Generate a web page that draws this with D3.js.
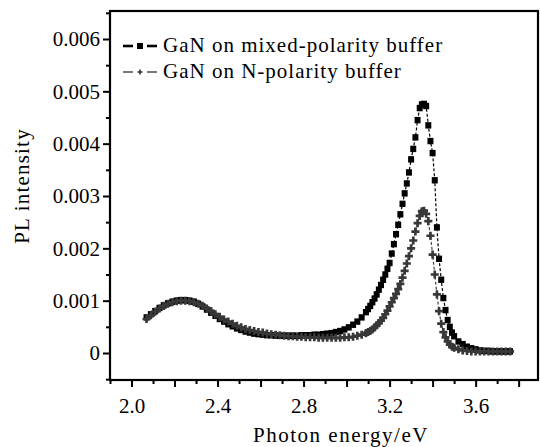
<!DOCTYPE html>
<html>
  <head>
    <style>
      body { margin: 0px; overflow: hidden; background: #fff; }
    </style>
    <script src="https://d3js.org/d3.v7.min.js"></script>
  </head>
  <body>
    <svg width="540" height="447"></svg>
    <script>
      // photon energy (eV), shared by both series
      const energy = [
        2.07, 2.09, 2.11, 2.13, 2.15, 2.17, 2.19, 2.21, 2.23, 2.25,
        2.27, 2.29, 2.31, 2.33, 2.35, 2.37, 2.39, 2.41, 2.43, 2.45,
        2.47, 2.49, 2.51, 2.53, 2.55, 2.57, 2.59, 2.61, 2.63, 2.65,
        2.67, 2.69, 2.71, 2.73, 2.75, 2.77, 2.79, 2.81, 2.83, 2.85,
        2.87, 2.89, 2.91, 2.93, 2.95, 2.97, 2.99, 3.01, 3.03, 3.05,
        3.07, 3.09, 3.10, 3.11, 3.12, 3.13, 3.14, 3.15, 3.16, 3.17,
        3.18, 3.19, 3.20, 3.21, 3.22, 3.23, 3.24, 3.25, 3.26, 3.27,
        3.28, 3.29, 3.30, 3.31, 3.32, 3.33, 3.34, 3.35, 3.36, 3.37,
        3.38, 3.39, 3.40, 3.41, 3.42, 3.43, 3.44, 3.45, 3.46, 3.47,
        3.48, 3.49, 3.50, 3.52, 3.54, 3.56, 3.58, 3.60, 3.62, 3.64,
        3.66, 3.68, 3.70, 3.72, 3.74, 3.76
      ];

      // PL intensity in units of 0.001
      const mixedPolarity = [
        0.68, 0.74, 0.80, 0.86, 0.91, 0.95, 0.98, 1.00, 1.01, 1.01,
        1.00, 0.98, 0.94, 0.89, 0.83, 0.77, 0.71, 0.65, 0.60, 0.55,
        0.51, 0.47, 0.44, 0.41, 0.39, 0.37, 0.36, 0.35, 0.34, 0.34,
        0.33, 0.33, 0.33, 0.33, 0.33, 0.33, 0.34, 0.34, 0.34, 0.35,
        0.35, 0.36, 0.37, 0.38, 0.40, 0.42, 0.45, 0.49, 0.54, 0.60,
        0.68, 0.78, 0.84, 0.90, 0.97, 1.04, 1.12, 1.21, 1.30, 1.40,
        1.50, 1.61, 1.72, 1.90, 2.08, 2.27, 2.45, 2.65, 2.85, 3.05,
        3.24, 3.45, 3.70, 3.90, 4.12, 4.45, 4.68, 4.75, 4.76, 4.72,
        4.35, 4.05, 3.82, 3.30, 2.40, 1.80, 1.40, 1.05, 0.82, 0.63,
        0.50, 0.39, 0.32, 0.22, 0.17, 0.12, 0.09, 0.07, 0.05, 0.04,
        0.04, 0.03, 0.03, 0.03, 0.03, 0.03
      ];

      const nPolarity = [
        0.65, 0.72, 0.79, 0.85, 0.90, 0.94, 0.97, 0.99, 1.00, 1.00,
        0.99, 0.97, 0.94, 0.90, 0.85, 0.80, 0.74, 0.69, 0.64, 0.60,
        0.56, 0.52, 0.49, 0.46, 0.44, 0.42, 0.40, 0.39, 0.37, 0.36,
        0.35, 0.34, 0.33, 0.32, 0.32, 0.31, 0.31, 0.30, 0.30, 0.30,
        0.29, 0.29, 0.29, 0.29, 0.29, 0.29, 0.30, 0.30, 0.31, 0.33,
        0.35, 0.38, 0.40, 0.42, 0.45, 0.49, 0.53, 0.57, 0.62, 0.67,
        0.74, 0.81, 0.89, 0.97, 1.05, 1.13, 1.22, 1.32, 1.44, 1.57,
        1.71, 1.85, 2.00, 2.15, 2.32, 2.48, 2.62, 2.71, 2.72, 2.66,
        2.52, 2.24, 1.88, 1.50, 1.12, 0.80, 0.56, 0.40, 0.30, 0.22,
        0.16, 0.12, 0.10, 0.07, 0.05, 0.04, 0.03, 0.03, 0.03, 0.03,
        0.03, 0.03, 0.03, 0.03, 0.03, 0.03
      ];

      const seriesNames = ['GaN on mixed-polarity buffer', 'GaN on N-polarity buffer'];
      const yTicks = [0, 1, 2, 3, 4, 5, 6];
      const yTickLabels = ['0', '0.001', '0.002', '0.003', '0.004', '0.005', '0.006'];
      const yMinorTicks = [-0.5, 0.5, 1.5, 2.5, 3.5, 4.5, 5.5, 6.5];
      const xLabelTicks = [2.0, 2.4, 2.8, 3.2, 3.6];
      const xMajorTicks = [2.0, 2.2, 2.4, 2.6, 2.8, 3.0, 3.2, 3.4, 3.6, 3.8];
      const xMinorTicks = [1.9, 2.1, 2.3, 2.5, 2.7, 2.9, 3.1, 3.3, 3.5, 3.7];

      const svg = d3.select('svg');
      const width = +svg.attr('width');
      const height = +svg.attr('height');
      const margin = { top: 11, right: 2, bottom: 67, left: 110 };
      const serif = 'Liberation Serif';
      const fontSize = 21;

      const xScale = d3.scaleLinear()
        .domain([1.9, 3.89])
        .range([margin.left, width - margin.right]);

      const yScale = d3.scaleLinear()
        .domain([-0.516, 6.535])
        .range([height - margin.bottom, margin.top]);

      // data
      const rows = energy.map((e, i) => ({ e, a: mixedPolarity[i], b: nPolarity[i] }));

      const lineA = d3.line().x(d => xScale(d.e)).y(d => yScale(d.a));
      const lineB = d3.line().x(d => xScale(d.e)).y(d => yScale(d.b));

      svg.append('path').datum(rows)
        .attr('d', lineA)
        .attr('fill', 'none')
        .attr('stroke', '#000')
        .attr('stroke-width', 1.2)
        .attr('stroke-dasharray', '3,2');

      svg.selectAll('rect.sq').data(rows)
        .enter().append('rect')
          .attr('class', 'sq')
          .attr('x', d => xScale(d.e) - 3)
          .attr('y', d => yScale(d.a) - 3.2)
          .attr('width', 6)
          .attr('height', 6.4)
          .attr('fill', '#000');

      svg.append('path').datum(rows)
        .attr('d', lineB)
        .attr('fill', 'none')
        .attr('stroke', '#444')
        .attr('stroke-width', 1.2)
        .attr('stroke-dasharray', '3,2');

      const cross = d3.symbol().type(d3.symbolCross).size(36);
      svg.selectAll('path.cr').data(rows)
        .enter().append('path')
          .attr('class', 'cr')
          .attr('d', cross)
          .attr('transform', d => `translate(${xScale(d.e)},${yScale(d.b)})`)
          .attr('fill', '#383838');

      // axes
      const yAxis = d3.axisLeft(yScale)
        .tickValues(yTicks)
        .tickFormat((d, i) => yTickLabels[i])
        .tickSize(7)
        .tickPadding(3);
      const yMinor = d3.axisLeft(yScale).tickValues(yMinorTicks).tickFormat('').tickSize(4);

      const xAxis = d3.axisBottom(xScale)
        .tickValues(xMajorTicks)
        .tickFormat(d => xLabelTicks.some(v => Math.abs(v - d) < 1e-9) ? d.toFixed(1) : '')
        .tickSize(7)
        .tickPadding(11);
      const xMinor = d3.axisBottom(xScale).tickValues(xMinorTicks).tickFormat('').tickSize(4);

      const styleAxis = g => {
        g.attr('font-size', fontSize).attr('font-family', serif);
        g.select('.domain').remove();
        g.selectAll('line').attr('stroke', '#000').attr('stroke-width', 2);
        g.selectAll('text').attr('fill', '#000');
      };

      svg.append('g').attr('transform', `translate(${margin.left},0)`).call(yAxis).call(styleAxis);
      svg.append('g').attr('transform', `translate(${margin.left},0)`).call(yMinor).call(styleAxis);
      svg.append('g').attr('transform', `translate(0,${height - margin.bottom})`).call(xAxis).call(styleAxis);
      svg.append('g').attr('transform', `translate(0,${height - margin.bottom})`).call(xMinor).call(styleAxis);

      // frame
      svg.append('rect')
        .attr('x', margin.left)
        .attr('y', margin.top)
        .attr('width', width - margin.right - margin.left)
        .attr('height', height - margin.bottom - margin.top)
        .attr('fill', 'none')
        .attr('stroke', '#000')
        .attr('stroke-width', 2.2);

      // axis titles
      svg.append('text')
        .attr('x', 341)
        .attr('y', 442)
        .attr('text-anchor', 'middle')
        .attr('font-family', serif)
        .attr('font-size', fontSize)
        .style('letter-spacing', '1.5px')
        .text('Photon energy/eV');

      svg.append('text')
        .attr('transform', `translate(29,186) rotate(-90)`)
        .attr('text-anchor', 'middle')
        .attr('font-family', serif)
        .attr('font-size', fontSize)
        .style('letter-spacing', '1.2px')
        .text('PL intensity');

      // legend
      const legendY = [46, 72];
      legendY.forEach((ly, i) => {
        const g = svg.append('g');
        const sw = i === 0 ? 2.6 : 1.3;
        const col = i === 0 ? '#000' : '#333';
        g.append('line').attr('x1', 123).attr('x2', 133).attr('y1', ly).attr('y2', ly)
          .attr('stroke', col).attr('stroke-width', sw);
        g.append('line').attr('x1', 147).attr('x2', 157).attr('y1', ly).attr('y2', ly)
          .attr('stroke', col).attr('stroke-width', sw);
        if (i === 0) {
          g.append('rect').attr('x', 137).attr('y', ly - 3).attr('width', 6).attr('height', 6).attr('fill', '#000');
        } else {
          g.append('path').attr('d', d3.symbol().type(d3.symbolCross).size(14))
            .attr('transform', `translate(140,${ly})`).attr('fill', '#333');
        }
        g.append('text')
          .attr('x', 163)
          .attr('y', ly + 6)
          .attr('font-family', serif)
          .attr('font-size', fontSize)
          .style('letter-spacing', '1px')
          .text(seriesNames[i]);
      });
    </script>
  </body>
</html>
